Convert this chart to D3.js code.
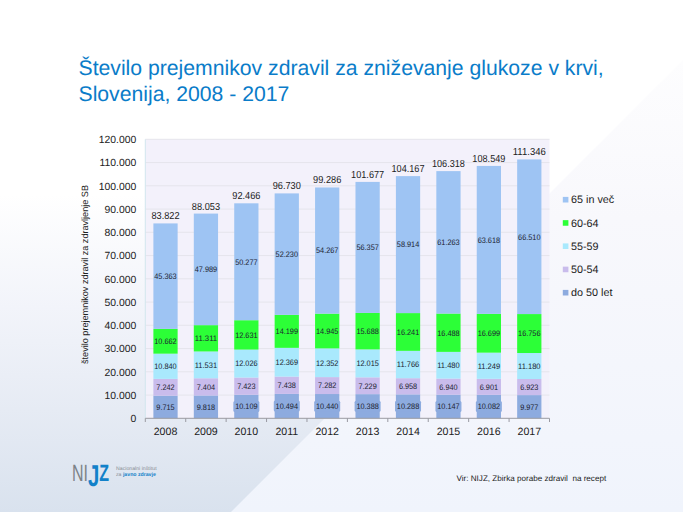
<!DOCTYPE html>
<html><head><meta charset="utf-8">
<style>html,body{margin:0;padding:0;background:#fff}svg{display:block}text{font-family:"Liberation Sans",Arial,sans-serif;text-rendering:geometricPrecision}</style>
<script src="https://cdnjs.cloudflare.com/ajax/libs/d3/7.8.5/d3.min.js"></script>
</head><body><svg id="c" width="683" height="512"></svg>
<script>
const years = ["2008","2009","2010","2011","2012","2013","2014","2015","2016","2017"];
const do50 = [9715,9818,10109,10494,10440,10388,10288,10147,10082,9977];
const s5054 = [7242,7404,7423,7438,7282,7229,6958,6940,6901,6923];
const s5559 = [10840,11531,12026,12369,12352,12015,11766,11480,11249,11180];
const s6064 = [10662,11311,12631,14199,14945,15688,16241,16488,16699,16756];
const s65 = [45363,47989,50277,52230,54267,56357,58914,61263,63618,66510];
const totals = [83822,88053,92466,96730,99286,101677,104167,106318,108549,111346];
const seriesNames = ["do 50 let","50-54","55-59","60-64","65 in več"];
const seriesValues = [do50,s5054,s5559,s6064,s65];
const seriesColors = ["#8dabdf","#c9bcec","#a9e9fd","#2cff37","#9ec4f3"];
const yTicks = d3.range(0,120001,10000);
const titleLines = ["Število prejemnikov zdravil za zniževanje glukoze v krvi,","Slovenija, 2008 - 2017"];

const fmt = d3.formatLocale({decimal:",",thousands:".",grouping:[3],currency:["","€"]}).format(",d");
const svg = d3.select("#c");
const defs = svg.append("defs");
const g1 = defs.append("linearGradient").attr("id","bg").attr("x1",0).attr("y1",0).attr("x2",0).attr("y2",1);
[[0,"#ffffff"],[0.38,"#ffffff"],[0.6,"#f2f4fa"],[0.8,"#e6ebf4"],[1,"#d9e2ee"]].forEach(d=>g1.append("stop").attr("offset",d[0]).attr("stop-color",d[1]));
svg.append("rect").attr("width",683).attr("height",512).attr("fill","url(#bg)");
const g2 = defs.append("linearGradient").attr("id","bg2").attr("gradientUnits","userSpaceOnUse").attr("x1",0).attr("y1",60).attr("x2",0).attr("y2",512);
[[0,"#fdfdfe"],[0.35,"#f8f8fc"],[1,"#f0f4fc"]].forEach(d=>g2.append("stop").attr("offset",d[0]).attr("stop-color",d[1]));
svg.append("path").attr("d","M683 512V60L231 512Z").attr("fill","url(#bg2)");

titleLines.forEach((t,i)=>svg.append("text").attr("x",78.5).attr("y",75+i*26).attr("font-size",21.2).attr("fill","#0a7cc9").text(t));

const x = d3.scaleBand().domain(years).range([145.3,549.5]).paddingInner(0.4).paddingOuter(0.2);
const y = d3.scaleLinear().domain([0,120000]).range([418.3,139.3]);

svg.append("rect").attr("x",145.3).attr("y",139.3).attr("width",404.2).attr("height",279).attr("fill","#f3f1fb");
svg.append("g").selectAll("line").data(yTicks.slice(1)).join("line")
  .attr("x1",145.3).attr("x2",549.5).attr("y1",d=>y(d)).attr("y2",d=>y(d)).attr("stroke","#e3e3ea").attr("stroke-width",0.9);
svg.append("line").attr("x1",145.3).attr("x2",145.3).attr("y1",139.3).attr("y2",418.3).attr("stroke","#d3e6ee");

const stack = seriesValues.map(()=>[]);
years.forEach((yr,i)=>{let c=0;seriesValues.forEach((s,j)=>{stack[j].push({yr,v:s[i],y0:c,y1:c+s[i]});c+=s[i];});});

stack.forEach((ser,j)=>{
  svg.append("g").selectAll("rect").data(ser).join("rect")
    .attr("x",d=>x(d.yr)).attr("width",x.bandwidth())
    .attr("y",d=>y(d.y1)).attr("height",d=>y(d.y0)-y(d.y1)).attr("fill",seriesColors[j]);
});
stack.forEach((ser,j)=>{
  const g = svg.append("g");
  ser.forEach(d=>{
    const cx = x(d.yr)+x.bandwidth()/2, cy=(y(d.y0)+y(d.y1))/2;
    if(j===0 && d.v>=10000) g.append("rect").attr("x",cx-13).attr("y",cy-5.5).attr("width",26).attr("height",11).attr("rx",1.5).attr("fill","#8dabdf");
    g.append("text").attr("x",cx).attr("y",cy+2.9).attr("text-anchor","middle").attr("font-size",8).attr("fill","#1b2230")
      .attr("textLength",fmt(d.v).length===6?22.4:18.3).attr("lengthAdjust","spacingAndGlyphs").text(fmt(d.v));
  });
});
svg.append("g").selectAll("text").data(years).join("text")
  .attr("x",d=>x(d)+x.bandwidth()/2).attr("y",(d,i)=>y(totals[i])-4)
  .attr("text-anchor","middle").attr("font-size",10.2).attr("fill","#222")
  .attr("textLength",(d,i)=>fmt(totals[i]).length===7?33:28.2).attr("lengthAdjust","spacingAndGlyphs")
  .text((d,i)=>fmt(totals[i]));

const yAxis = d3.axisLeft(y).tickValues(yTicks).tickSize(0).tickPadding(9).tickFormat(d=>d===0?"0":fmt(d));
const ya = svg.append("g").attr("transform","translate(145.3,0)").call(yAxis);
ya.select(".domain").remove();
ya.selectAll("text").attr("font-size",10.4).attr("fill","#222").style("font-family",'"Liberation Sans",Arial,sans-serif');
const xAxis = d3.axisBottom(x).tickSize(0).tickPadding(9);
const xa = svg.append("g").attr("transform","translate(0,418.3)").call(xAxis);
xa.select(".domain").remove();
xa.selectAll("text").attr("font-size",10.6).attr("fill","#222").style("font-family",'"Liberation Sans",Arial,sans-serif');
svg.append("line").attr("x1",145.3).attr("x2",549.5).attr("y1",418.3).attr("y2",418.3).attr("stroke","#9a9aa2");
svg.append("g").selectAll("line").data(d3.range(0,11)).join("line")
  .attr("x1",d=>145.3+d*404.2/10).attr("x2",d=>145.3+d*404.2/10).attr("y1",418.3).attr("y2",422).attr("stroke","#9a9aa2");

svg.append("text").attr("transform","translate(87.5,274.5) rotate(-90)").attr("text-anchor","middle").attr("font-size",9.1).attr("fill","#222").text("število prejemnikov zdravil za zdravljenje SB");

const legendY = d3.scalePoint().domain(seriesNames.slice().reverse()).range([199.7,292.7]);
seriesNames.forEach((n,j)=>{
  svg.append("rect").attr("x",562.8).attr("y",legendY(n)-2.8).attr("width",5.6).attr("height",5.6).attr("fill",seriesColors[j]);
  svg.append("text").attr("x",571).attr("y",legendY(n)+3.6).attr("font-size",10.8).attr("fill","#222").text(n);
});

svg.append("text").attr("x",456.5).attr("y",481).attr("font-size",8.1).attr("fill","#222").style("white-space","pre").text("Vir: NIJZ, Zbirka porabe zdravil  na recept");

// logo
const logo = svg.append("text").attr("transform","translate(72,481) scale(0.68,1)").attr("font-size",23.5).attr("fill","#7d8288");
logo.append("tspan").text("NI");
logo.append("tspan").attr("dy",4.5).attr("font-size",30).attr("font-weight","bold").attr("fill","#1281c9").text("J");
logo.append("tspan").attr("dy",-4.5).attr("font-weight","bold").attr("fill","#1281c9").text("Z");
svg.append("text").attr("x",116).attr("y",469.5).attr("font-size",5.2).attr("fill","#8a8f96").text("Nacionalni inštitut");
const t2 = svg.append("text").attr("x",116).attr("y",476).attr("font-size",5.2).attr("fill","#8a8f96");
t2.append("tspan").text("za ");
t2.append("tspan").attr("font-weight","bold").attr("fill","#1281c9").text("javno zdravje");
</script></body></html>
